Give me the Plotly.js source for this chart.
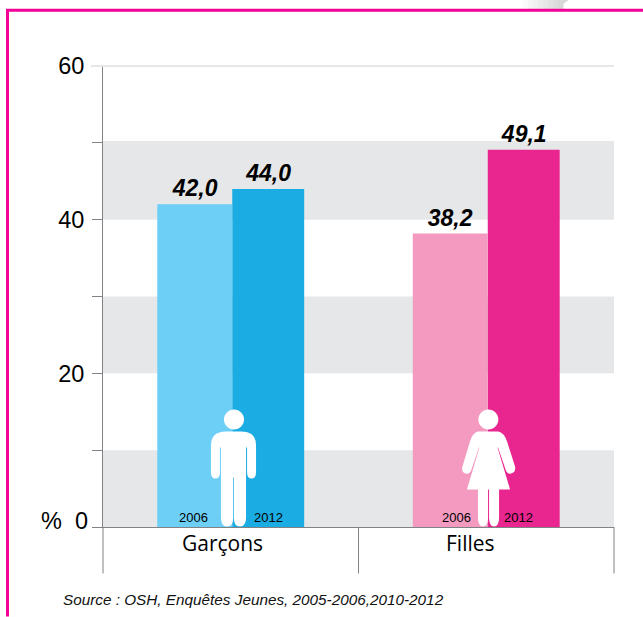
<!DOCTYPE html>
<html><head><meta charset="utf-8">
<script src="https://cdn.plot.ly/plotly-3.0.1.min.js"></script>
<style>html,body{margin:0;padding:0;background:#fff;overflow:hidden}</style>
</head><body><div id="chart" style="width:643px;height:617px"></div>
<script>
const categories = ['Garçons', 'Filles'];
const years = ['2006', '2012'];
const values2006 = [42.0, 38.2];
const values2012 = [44.0, 49.1];
const labels2006 = ['42,0', '38,2'];
const labels2012 = ['44,0', '49,1'];
const colors2006 = ['#6DCFF6', '#F49AC1'];
const colors2012 = ['#1AACE3', '#E9268F'];
const bands = [[0, 10], [20, 30], [40, 50.25]];
const tickVals = [0, 10, 20, 30, 40, 50, 60];
const tickText = ['', '', '20', '', '40', '', '60'];
const sourceText = 'Source : OSH, Enquêtes Jeunes, 2005-2006,2010-2012';

const W = 643, H = 617, L = 103, R = 614, T = 66, B = 527.5;
const px = x => (x - L) / (R - L);
const py = y => (B - y) / (B - T);
const sans = 'Liberation Sans, Arial, sans-serif';
const cx = [230.75, 486.25];

function rel(path, ax) { // image pixels -> offsets from the anchor (y up)
  return path.replace(/([MLQC])([^MLQCZ]*)/g, (m, c, args) => {
    const n = args.trim().split(/\s+/).map(Number);
    return c + n.map((v, i) => i % 2 ? (B - v).toFixed(1) : (v - ax).toFixed(1)).join(' ') + ' ';
  });
}
function head(x, y, r) {
  const k = r * 0.5523;
  return `M${x - r} ${y} C${x - r} ${y - k} ${x - k} ${y - r} ${x} ${y - r} C${x + k} ${y - r} ${x + r} ${y - k} ${x + r} ${y} C${x + r} ${y + k} ${x + k} ${y + r} ${x} ${y + r} C${x - k} ${y + r} ${x - r} ${y + k} ${x - r} ${y} Z`;
}
const maleBody = 'M211 446 Q211 432 226 432 L241 432 Q256 432 256 446 L256 473 Q256 479 251.5 479 Q247 479 247 473 L247 448 L246 448 L246 518 Q246 527 240 527 Q234 527 233.8 519 L233.8 478 L233.2 478 L233.2 519 Q233 527 227 527 Q221 527 221 518 L221 448 L220 448 L220 473 Q220 479 215.5 479 Q211 479 211 473 Z';
const femaleBody = 'M478 432 L498 432 Q504 433 507 442 L515 467 Q516 473 511 474 Q507 475 505.5 470 L498 448 L497.5 448 L510 490 L499 490 L499 518 Q499 527 494 527 Q489.5 527 489 519 L489 490 L488 490 L488 519 Q487.5 527 483 527 Q478 527 478 518 L478 490 L467 490 L479.5 448 L479 448 L471.5 470 Q470 475 466 474 Q461 473 462.5 467 L470 442 Q473 433 478 432 Z';

function icon(path, i) {
  return { type: 'path', layer: 'above', xref: 'x', yref: 'y', xsizemode: 'pixel', ysizemode: 'pixel',
    xanchor: i, yanchor: 0, path: rel(path, cx[i]), fillcolor: '#fff', line: { width: 0 } };
}

const shapes = [];
bands.forEach(b => shapes.push({ type: 'rect', layer: 'below', xref: 'x domain', yref: 'y', x0: 0, x1: 1, y0: b[0], y1: b[1], fillcolor: '#E6E7E8', line: { width: 0 } }));
// separators under the axis
[0, 0.5, 1].forEach(d => shapes.push({ type: 'line', xref: 'x domain', yref: 'paper', x0: d, x1: d, y0: py(574), y1: 0, line: { color: '#808285', width: 1 } }));
// light line at 60, drawn over its tick
shapes.push({ type: 'line', layer: 'above', xref: 'paper', yref: 'paper', x0: px(91), x1: 1, y0: 1, y1: 1, line: { color: '#E6E7E8', width: 2.2 } });
shapes.push(icon(maleBody, 0), icon(head(234, 420, 10), 0), icon(femaleBody, 1), icon(head(488.4, 420, 10), 1));
// page fold at top edge
const foldColors = ['#FAFAFA', '#F5F5F5', '#F0F0F0', '#EBEBEB', '#E6E6E6', '#E1E1E1', '#DCDCDC', '#D8D8D8'];
foldColors.forEach((c, i) => {
  const a = 523 + i * 5, b = a + 5.5;
  shapes.push({ type: 'path', xref: 'paper', yref: 'paper', layer: 'above', path: `M${px(a)} ${py(0)} L${px(b)} ${py(0)} L${px(b)} ${py(9)} L${px(a)} ${py(9)} Z`, fillcolor: c, line: { width: 0 } });
});
shapes.push({ type: 'path', xref: 'paper', yref: 'paper', layer: 'above', path: `M${px(563)} ${py(0)} L${px(568.5)} ${py(0)} L${px(557)} ${py(9)} L${px(563)} ${py(9)} Z`, fillcolor: '#D8D8D8', line: { width: 0 } });
// page frame
shapes.push({ type: 'path', xref: 'paper', yref: 'paper', layer: 'above',
  path: `M${px(7.5)} ${py(617)} L${px(7.5)} ${py(10.2)} L${px(643)} ${py(10.2)}`, fillcolor: 'rgba(0,0,0,0)', line: { color: '#F20396', width: 3 } });

const annotations = [];
const ann = (text, x, xshift, yPix, size, extra) => annotations.push(Object.assign({
  text, xref: 'x', yref: 'paper', x, xshift, y: py(yPix), xanchor: 'center', yanchor: 'middle', showarrow: false,
  font: { family: sans, size, color: '#000' }
}, extra || {}));
categories.forEach((c, i) => {
  ann(years[0], i, i === 0 ? -37.5 : -29.5, 518, 13);
  ann(years[1], i, i === 0 ? 38.2 : 32.5, 518, 13);
  ann(c, i, i === 0 ? -8 : -16, 544, 21, { font: { family: 'Open Sans, sans-serif', size: 21, color: '#000' } });
});
const pageText = (text, xPix, yPix, font, xanchor) => annotations.push({ text, xref: 'paper', yref: 'paper', x: px(xPix), y: py(yPix), xanchor: xanchor || 'center', yanchor: 'middle', showarrow: false, font });
pageText('%', 51.5, 521, { family: sans, size: 23.5, color: '#000' });
pageText('0', 81, 521, { family: sans, size: 23.5, color: '#000' });
pageText(sourceText, 61, 600, { family: sans, size: 15.3, color: '#111', style: 'italic' }, 'left');

const valueFont = { family: sans, size: 23, color: '#000', weight: 700, style: 'italic' };
const traces = [
  { name: years[0], x: categories, y: values2006, text: labels2006, marker: { color: colors2006 }, width: 0.2925, offset: -0.2876 },
  { name: years[1], x: categories, y: values2012, text: labels2012, marker: { color: colors2012 }, width: 0.2815, offset: 0.0059 }
].map(t => Object.assign(t, { type: 'bar', textposition: 'outside', textfont: valueFont, cliponaxis: false, hoverinfo: 'skip' }));

Plotly.newPlot('chart', traces, {
  width: W, height: H, showlegend: false, barmode: 'overlay',
  paper_bgcolor: '#fff', plot_bgcolor: 'rgba(0,0,0,0)',
  margin: { l: L, r: W - R, t: T, b: H - B, pad: 0 },
  xaxis: { type: 'category', categoryorder: 'array', categoryarray: categories, range: [-0.5, 1.5],
    showgrid: false, zeroline: false, showline: true, linecolor: '#808285', linewidth: 1, ticks: '', showticklabels: false },
  yaxis: { range: [0, 60], tickvals: tickVals, ticktext: tickText, ticks: 'outside', ticklen: 10, tickcolor: '#808285', tickwidth: 1,
    ticklabelstandoff: 3, showgrid: false, zeroline: false, showline: true, linecolor: '#808285', linewidth: 1,
    tickfont: { family: sans, size: 23.5, color: '#000' } },
  shapes, annotations
}, { displayModeBar: false, staticPlot: true });
</script></body></html>
